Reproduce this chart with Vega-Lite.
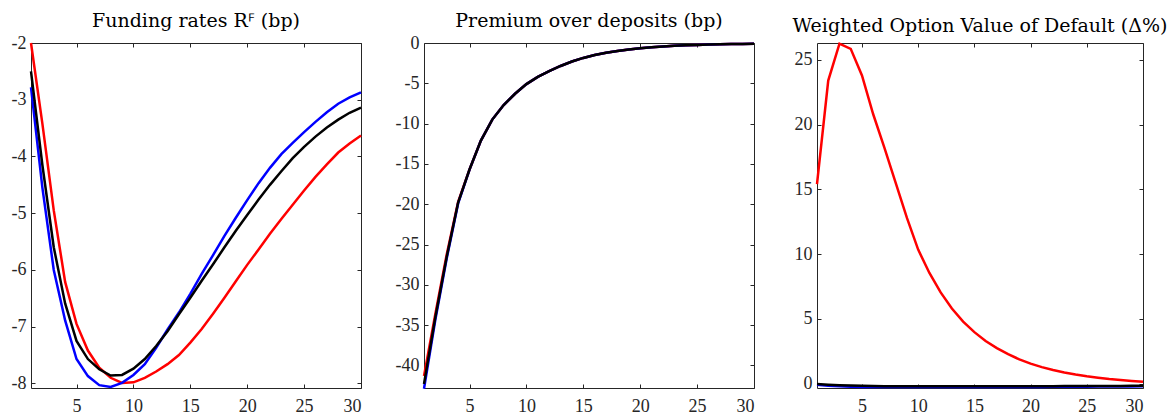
{
  "$schema": "https://vega.github.io/schema/vega-lite/v6.json",
  "padding": {"left": 10, "top": 11, "right": 0, "bottom": 0},
  "bounds": "flush",
  "spacing": 63,
  "config": {
    "font": "Liberation Serif",
    "view": {"stroke": "#262626", "strokeWidth": 1},
    "axis": {
      "domain": false, "grid": false, "tickSize": -4, "tickColor": "#262626",
      "labelColor": "#262626", "labelFontSize": 18, "labelFont": "Liberation Serif",
      "labelPadding": 9
    },
    "axisBottom": {"labelPadding": 13},
    "title": {"fontSize": 19, "fontWeight": "normal", "font": "DejaVu Serif", "color": "#000000", "offset": 3},
    "line": {"strokeWidth": 2.5}
  },
  "datasets": {
    "funding": [
      {"t": 1, "A": -2.0, "B": -2.78, "C": -2.5},
      {"t": 2, "A": -3.42, "B": -4.55, "C": -4.15},
      {"t": 3, "A": -4.95, "B": -6.0, "C": -5.6},
      {"t": 4, "A": -6.21, "B": -6.89, "C": -6.59},
      {"t": 5, "A": -6.95, "B": -7.57, "C": -7.25},
      {"t": 6, "A": -7.42, "B": -7.87, "C": -7.57},
      {"t": 7, "A": -7.72, "B": -8.03, "C": -7.75},
      {"t": 8, "A": -7.9, "B": -8.06, "C": -7.86},
      {"t": 9, "A": -7.99, "B": -7.99, "C": -7.85},
      {"t": 10, "A": -7.98, "B": -7.85, "C": -7.74},
      {"t": 11, "A": -7.9, "B": -7.66, "C": -7.57},
      {"t": 12, "A": -7.79, "B": -7.37, "C": -7.34},
      {"t": 13, "A": -7.66, "B": -7.05, "C": -7.08},
      {"t": 14, "A": -7.5, "B": -6.75, "C": -6.78},
      {"t": 15, "A": -7.28, "B": -6.42, "C": -6.49},
      {"t": 16, "A": -7.04, "B": -6.07, "C": -6.19},
      {"t": 17, "A": -6.77, "B": -5.74, "C": -5.9},
      {"t": 18, "A": -6.49, "B": -5.4, "C": -5.6},
      {"t": 19, "A": -6.2, "B": -5.08, "C": -5.31},
      {"t": 20, "A": -5.91, "B": -4.77, "C": -5.03},
      {"t": 21, "A": -5.64, "B": -4.47, "C": -4.76},
      {"t": 22, "A": -5.36, "B": -4.2, "C": -4.5},
      {"t": 23, "A": -5.1, "B": -3.96, "C": -4.26},
      {"t": 24, "A": -4.85, "B": -3.76, "C": -4.03},
      {"t": 25, "A": -4.6, "B": -3.57, "C": -3.83},
      {"t": 26, "A": -4.36, "B": -3.39, "C": -3.65},
      {"t": 27, "A": -4.14, "B": -3.22, "C": -3.49},
      {"t": 28, "A": -3.93, "B": -3.07, "C": -3.35},
      {"t": 29, "A": -3.77, "B": -2.96, "C": -3.23},
      {"t": 30, "A": -3.63, "B": -2.87, "C": -3.14}
    ],
    "premium": [
      {"t": 1, "A": -41.3, "B": -42.9, "C": -42.3},
      {"t": 2, "A": -33.6, "B": -34.3, "C": -34.0},
      {"t": 3, "A": -26.2, "B": -26.7, "C": -26.5},
      {"t": 4, "A": -19.7, "B": -19.9, "C": -19.8},
      {"t": 5, "A": -15.7, "B": -15.7, "C": -15.7},
      {"t": 6, "A": -12.1, "B": -12.1, "C": -12.1},
      {"t": 7, "A": -9.5, "B": -9.5, "C": -9.5},
      {"t": 8, "A": -7.7, "B": -7.7, "C": -7.7},
      {"t": 9, "A": -6.3, "B": -6.3, "C": -6.3},
      {"t": 10, "A": -5.1, "B": -5.1, "C": -5.1},
      {"t": 11, "A": -4.2, "B": -4.2, "C": -4.2},
      {"t": 12, "A": -3.5, "B": -3.5, "C": -3.5},
      {"t": 13, "A": -2.85, "B": -2.85, "C": -2.85},
      {"t": 14, "A": -2.3, "B": -2.3, "C": -2.3},
      {"t": 15, "A": -1.85, "B": -1.85, "C": -1.85},
      {"t": 16, "A": -1.5, "B": -1.5, "C": -1.5},
      {"t": 17, "A": -1.2, "B": -1.2, "C": -1.2},
      {"t": 18, "A": -0.98, "B": -0.98, "C": -0.98},
      {"t": 19, "A": -0.8, "B": -0.8, "C": -0.8},
      {"t": 20, "A": -0.65, "B": -0.65, "C": -0.65},
      {"t": 21, "A": -0.53, "B": -0.53, "C": -0.53},
      {"t": 22, "A": -0.43, "B": -0.43, "C": -0.43},
      {"t": 23, "A": -0.35, "B": -0.35, "C": -0.35},
      {"t": 24, "A": -0.29, "B": -0.29, "C": -0.29},
      {"t": 25, "A": -0.24, "B": -0.24, "C": -0.24},
      {"t": 26, "A": -0.2, "B": -0.2, "C": -0.2},
      {"t": 27, "A": -0.16, "B": -0.16, "C": -0.16},
      {"t": 28, "A": -0.13, "B": -0.13, "C": -0.13},
      {"t": 29, "A": -0.11, "B": -0.11, "C": -0.11},
      {"t": 30, "A": -0.09, "B": -0.09, "C": -0.09}
    ],
    "option": [
      {"t": 1, "A": 15.4, "B": -0.08, "C": -0.02},
      {"t": 2, "A": 23.4, "B": -0.15, "C": -0.07},
      {"t": 3, "A": 26.25, "B": -0.2, "C": -0.11},
      {"t": 4, "A": 25.85, "B": -0.23, "C": -0.14},
      {"t": 5, "A": 23.8, "B": -0.25, "C": -0.16},
      {"t": 6, "A": 20.8, "B": -0.26, "C": -0.18},
      {"t": 7, "A": 18.2, "B": -0.26, "C": -0.19},
      {"t": 8, "A": 15.5, "B": -0.26, "C": -0.2},
      {"t": 9, "A": 12.8, "B": -0.26, "C": -0.2},
      {"t": 10, "A": 10.35, "B": -0.26, "C": -0.2},
      {"t": 11, "A": 8.55, "B": -0.26, "C": -0.2},
      {"t": 12, "A": 7.05, "B": -0.26, "C": -0.2},
      {"t": 13, "A": 5.8, "B": -0.26, "C": -0.2},
      {"t": 14, "A": 4.8, "B": -0.26, "C": -0.2},
      {"t": 15, "A": 3.98, "B": -0.26, "C": -0.2},
      {"t": 16, "A": 3.3, "B": -0.26, "C": -0.2},
      {"t": 17, "A": 2.75, "B": -0.26, "C": -0.2},
      {"t": 18, "A": 2.28, "B": -0.26, "C": -0.2},
      {"t": 19, "A": 1.88, "B": -0.26, "C": -0.2},
      {"t": 20, "A": 1.55, "B": -0.25, "C": -0.19},
      {"t": 21, "A": 1.28, "B": -0.25, "C": -0.19},
      {"t": 22, "A": 1.06, "B": -0.24, "C": -0.19},
      {"t": 23, "A": 0.87, "B": -0.24, "C": -0.18},
      {"t": 24, "A": 0.71, "B": -0.23, "C": -0.18},
      {"t": 25, "A": 0.57, "B": -0.23, "C": -0.18},
      {"t": 26, "A": 0.46, "B": -0.22, "C": -0.17},
      {"t": 27, "A": 0.36, "B": -0.22, "C": -0.17},
      {"t": 28, "A": 0.28, "B": -0.21, "C": -0.17},
      {"t": 29, "A": 0.21, "B": -0.21, "C": -0.16},
      {"t": 30, "A": 0.15, "B": -0.2, "C": -0.16}
    ]
  },
  "hconcat": [
    {
      "width": 330, "height": 345,
      "title": "Funding rates Rꟳ (bp)",
      "data": {"name": "funding"},
      "transform": [{"fold": ["A", "B", "C"], "as": ["scenario", "value"]}],
      "layer": [
        {
          "mark": {"type": "line"},
          "encoding": {
            "x": {"field": "t", "type": "quantitative", "scale": {"domain": [1, 30], "nice": false},
                  "axis": {"values": [5, 10, 15, 20, 25, 30], "title": null}},
            "y": {"field": "value", "type": "quantitative", "scale": {"domain": [-8.08, -2], "nice": false, "zero": false},
                  "axis": {"values": [-8, -7, -6, -5, -4, -3, -2], "title": null, "labelExpr": "replace(datum.label, '\u2212', '-')"}},
            "color": {"field": "scenario", "type": "nominal", "legend": null,
                      "scale": {"domain": ["A", "B", "C"], "range": ["#ff0000", "#0000ff", "#000000"]}}
          }
        },
        {
          "mark": {"type": "line", "opacity": 0},
          "encoding": {
            "x": {"field": "t", "type": "quantitative", "axis": {"orient": "top", "labels": false, "values": [5, 10, 15, 20, 25, 30], "title": null}},
            "y": {"field": "value", "type": "quantitative", "axis": {"orient": "right", "labels": false, "values": [-8, -7, -6, -5, -4, -3, -2], "title": null}},
            "detail": {"field": "scenario"}
          }
        }
      ],
      "resolve": {"axis": {"x": "independent", "y": "independent"}}
    },
    {
      "width": 330, "height": 345,
      "title": "Premium over deposits (bp)",
      "data": {"name": "premium"},
      "transform": [{"fold": ["A", "B", "C"], "as": ["scenario", "value"]}],
      "layer": [
        {
          "mark": {"type": "line"},
          "encoding": {
            "x": {"field": "t", "type": "quantitative", "scale": {"domain": [1, 30], "nice": false},
                  "axis": {"values": [5, 10, 15, 20, 25, 30], "title": null}},
            "y": {"field": "value", "type": "quantitative", "scale": {"domain": [-42.8, 0], "nice": false, "zero": false},
                  "axis": {"values": [-40, -35, -30, -25, -20, -15, -10, -5, 0], "title": null, "labelExpr": "replace(datum.label, '\u2212', '-')"}},
            "color": {"field": "scenario", "type": "nominal", "legend": null,
                      "scale": {"domain": ["A", "B", "C"], "range": ["#ff0000", "#0000ff", "#000000"]}}
          }
        },
        {
          "mark": {"type": "line", "opacity": 0},
          "encoding": {
            "x": {"field": "t", "type": "quantitative", "axis": {"orient": "top", "labels": false, "values": [5, 10, 15, 20, 25, 30], "title": null}},
            "y": {"field": "value", "type": "quantitative", "axis": {"orient": "right", "labels": false, "values": [-40, -35, -30, -25, -20, -15, -10, -5, 0], "title": null}},
            "detail": {"field": "scenario"}
          }
        }
      ],
      "resolve": {"axis": {"x": "independent", "y": "independent"}}
    },
    {
      "width": 326, "height": 345,
      "title": "Weighted Option Value of Default (Δ%)",
      "data": {"name": "option"},
      "transform": [{"fold": ["A", "B", "C"], "as": ["scenario", "value"]}],
      "layer": [
        {
          "mark": {"type": "line"},
          "encoding": {
            "x": {"field": "t", "type": "quantitative", "scale": {"domain": [1, 30], "nice": false},
                  "axis": {"values": [5, 10, 15, 20, 25, 30], "title": null}},
            "y": {"field": "value", "type": "quantitative", "scale": {"domain": [-0.33, 26.3], "nice": false, "zero": false},
                  "axis": {"values": [0, 5, 10, 15, 20, 25], "title": null}},
            "color": {"field": "scenario", "type": "nominal", "legend": null,
                      "scale": {"domain": ["A", "B", "C"], "range": ["#ff0000", "#0000ff", "#000000"]}}
          }
        },
        {
          "mark": {"type": "line", "opacity": 0},
          "encoding": {
            "x": {"field": "t", "type": "quantitative", "axis": {"orient": "top", "labels": false, "values": [5, 10, 15, 20, 25, 30], "title": null}},
            "y": {"field": "value", "type": "quantitative", "axis": {"orient": "right", "labels": false, "values": [0, 5, 10, 15, 20, 25], "title": null}},
            "detail": {"field": "scenario"}
          }
        }
      ],
      "resolve": {"axis": {"x": "independent", "y": "independent"}}
    }
  ]
}
